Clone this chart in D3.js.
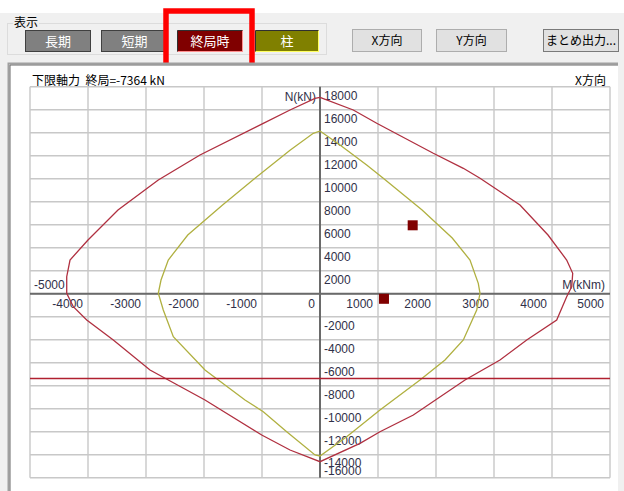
<!DOCTYPE html>
<html><head><meta charset="utf-8">
<script src="https://cdn.jsdelivr.net/npm/d3@7"></script>
<style>
html,body{margin:0;padding:0;background:#fff;}
svg{display:block;}
text{font-family:"Liberation Sans",Arial,sans-serif;}
.jp{font-family:"Noto Sans CJK JP","Noto Sans",sans-serif;}
</style></head>
<body>
<svg id="c" width="624" height="491"></svg>
<script>
// ---- data ----
const outerM = [0,-86,-517,-978,-2069,-2788,-3483,-4000,-4310,-4367,-4367,-4253,-4022,-3564,-2931,-1983,-1005,-517,0,690,1034,1609,2500,3103,3564,4081,4253,4340,4357,4253,3931,3448,2759,2471,1953,978,574,0];
const outerN = [17078,16991,15974,14817,12061,9887,7278,4670,2930,1478,35,-1130,-2287,-4026,-6635,-9243,-12287,-13591,-14609,-13009,-12000,-10548,-7504,-5765,-4026,-2287,-261,609,1774,2930,5104,7713,10035,10904,12209,14817,15974,17078];
const innerM = [0,-116,-517,-1121,-1680,-2280,-2616,-2741,-2788,-2702,-2529,-1983,-1293,-978,-574,-86,0,460,1034,1724,2155,2471,2702,2759,2729,2586,2280,1760,1091,805,345,0];
const innerN = [14148,13948,12470,10035,7713,5104,2930,1191,35,-1417,-3739,-6635,-9243,-10261,-12000,-14026,-14113,-12435,-10113,-7504,-5765,-4026,-1417,35,904,2930,4843,7278,10035,11191,12930,14148];
const pointM = [1598,1103];
const pointN = [5948,-443];
const limitN = -7364;
const xTicks = [-5000,-4000,-3000,-2000,-1000,0,1000,2000,3000,4000,5000];
const yTicks = [-16000,-14000,-12000,-10000,-8000,-6000,-4000,-2000,0,2000,4000,6000,8000,10000,12000,14000,16000,18000];
const xGrid = d3.range(-5000,5001,1000);
const yGrid = d3.range(-16000,18001,2000);
const titleText = "下限軸力\u00a0\u00a0終局=-7364 kN";
const dirText = "X方向";
const leftButtons = ["長期","短期","終局時","柱"];
const rightButtons = ["X方向","Y方向","まとめ出力..."];

const svg = d3.select("#c");

// ---- window chrome ----
svg.append("rect").attr("x",0).attr("y",13).attr("width",624).attr("height",478).attr("fill","#f0f0f0");
svg.append("rect").attr("x",7.5).attr("y",23.5).attr("width",319).attr("height",31).attr("fill","none").attr("stroke","#dcdcdc");
svg.append("rect").attr("x",13).attr("y",17).attr("width",26).attr("height",12).attr("fill","#f0f0f0");
svg.append("text").attr("class","jp").attr("x",14).attr("y",27).attr("font-size",12).attr("fill","#000").text("表示");

const lb = [
  {x:25,w:65,fill:"#808080",stroke:"#404040"},
  {x:101,w:66,fill:"#808080",stroke:"#404040"},
  {x:177,w:65,fill:"#800000",stroke:"#ff9090"},
  {x:255,w:63,fill:"#808000",stroke:"#ffff60"}
];
leftButtons.forEach((t,i)=>{
  const b=lb[i];
  svg.append("rect").attr("x",b.x+0.5).attr("y",30.5).attr("width",b.w).attr("height",21).attr("fill",b.fill).attr("stroke",b.stroke);
  if(i>=2){
    svg.append("path").attr("d",`M${b.x+0.5},${51.5}V30.5H${b.x+b.w+0.5}`).attr("fill","none").attr("stroke","#303030");
  }
  svg.append("text").attr("class","jp").attr("x",b.x+b.w/2+0.5).attr("y",46).attr("text-anchor","middle").attr("font-size",13).attr("fill","#fff").text(t);
});
svg.append("rect").attr("x",166).attr("y",11).attr("width",86).attr("height",56.5).attr("fill","none").attr("stroke","#ff0000").attr("stroke-width",5.5);

const rb = [{x:352,w:69},{x:436,w:70},{x:543,w:75}];
rightButtons.forEach((t,i)=>{
  const b=rb[i];
  svg.append("rect").attr("x",b.x+0.5).attr("y",29.5).attr("width",b.w).attr("height",22).attr("fill","#e1e1e1").attr("stroke",i==2?"#7a7a7a":"#adadad");
  svg.append("text").attr("class","jp").attr("x",b.x+b.w/2+0.5).attr("y",45).attr("text-anchor","middle").attr("font-size",12).attr("fill","#000").text(t);
});

// chart panel
svg.append("rect").attr("x",8).attr("y",63).attr("width",610).attr("height",428).attr("fill","#fff");
svg.append("path").attr("d","M8.5,491V63.5H618").attr("fill","none").attr("stroke","#a0a0a0").attr("stroke-width",2);
svg.append("path").attr("d","M10,491V65H618").attr("fill","none").attr("stroke","#696969").attr("stroke-width",1);

// ---- scales ----
const x = d3.scaleLinear().domain([-5000,5000]).range([30,610]);
const y = d3.scaleLinear().domain([-16000,18000]).range([477.7,86.7]);

const g = svg.append("g");
g.selectAll(".vg").data(xGrid).enter().append("line")
  .attr("x1",d=>x(d)).attr("x2",d=>x(d)).attr("y1",y(18000)).attr("y2",y(-16000))
  .attr("stroke","#c8c8c8").attr("stroke-width",1.4);
g.selectAll(".hg").data(yGrid).enter().append("line")
  .attr("x1",x(-5000)).attr("x2",x(5000)).attr("y1",d=>y(d)).attr("y2",d=>y(d))
  .attr("stroke","#c8c8c8").attr("stroke-width",1.4);

g.append("line").attr("x1",x(-5000)).attr("x2",x(5000)).attr("y1",y(0)).attr("y2",y(0)).attr("stroke","#6a6a6a").attr("stroke-width",2);
g.append("line").attr("x1",x(0)).attr("x2",x(0)).attr("y1",y(18000)).attr("y2",y(-16000)).attr("stroke","#6a6a6a").attr("stroke-width",2);

const lblColor = "#303048";
xTicks.forEach(v=>{
  if(v===-5000){
    g.append("text").attr("x",x(v)+4).attr("y",y(0)-4.5).attr("font-size",12).attr("fill",lblColor).text(v);
  } else {
    g.append("text").attr("x",x(v)-(v===5000?6:5)).attr("y",y(0)+14.5).attr("text-anchor","end").attr("font-size",12).attr("fill",lblColor).text(v);
  }
});
yTicks.forEach(v=>{
  if(v===0) return;
  let yy = y(v)+13.5;
  if(v===-16000) yy = 474.5;
  if(v===-14000) yy = 467;
  g.append("text").attr("x",x(0)+4).attr("y",yy).attr("font-size",12).attr("fill",lblColor).text(v);
});
g.append("text").attr("x",x(0)-4).attr("y",100.5).attr("text-anchor","end").attr("font-size",12).attr("fill",lblColor).text("N(kN)");
g.append("text").attr("x",x(5000)-5).attr("y",288.5).attr("text-anchor","end").attr("font-size",12).attr("fill",lblColor).text("M(kNm)");

svg.append("text").attr("class","jp").attr("x",32).attr("y",84.5).attr("font-size",12).attr("fill","#000").text(titleText);
svg.append("text").attr("class","jp").attr("x",606).attr("y",84.5).attr("text-anchor","end").attr("font-size",12).attr("fill","#000").text(dirText);

const line = d3.line().x(d=>x(d[0])).y(d=>y(d[1]));
g.append("path").datum(outerM.map((m,i)=>[m,outerN[i]])).attr("d",line).attr("fill","none").attr("stroke","#b03040").attr("stroke-width",1.3);
g.append("path").datum(innerM.map((m,i)=>[m,innerN[i]])).attr("d",line).attr("fill","none").attr("stroke","#b0b040").attr("stroke-width",1.3);

g.append("line").attr("x1",x(-5000)).attr("x2",x(5000)).attr("y1",y(limitN)).attr("y2",y(limitN)).attr("stroke","#b02030").attr("stroke-width",1.5);

g.selectAll(".pt").data(pointM.map((m,i)=>[m,pointN[i]])).enter().append("rect")
  .attr("x",d=>x(d[0])-5).attr("y",d=>y(d[1])-5).attr("width",10).attr("height",10).attr("fill","#800000");
</script>
</body></html>
